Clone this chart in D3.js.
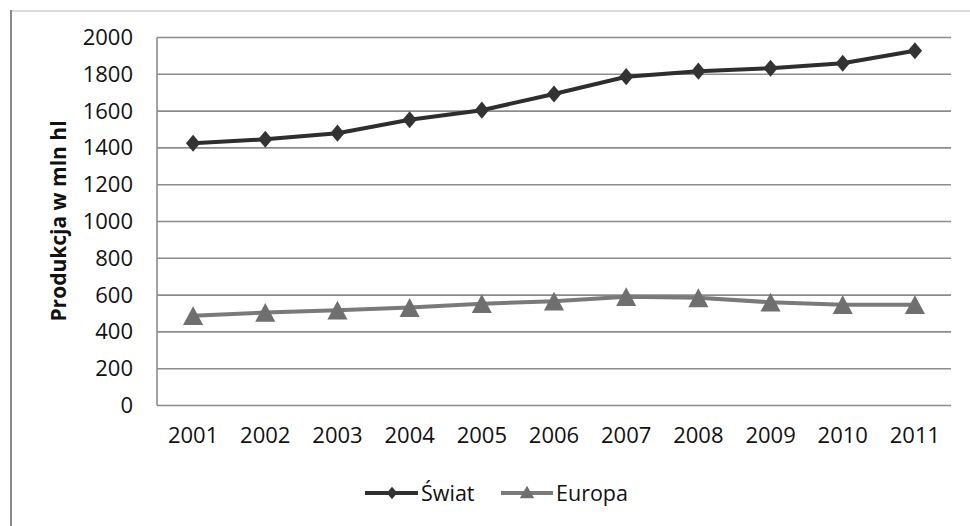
<!DOCTYPE html>
<html><head><meta charset="utf-8">
<script src="https://cdn.jsdelivr.net/npm/d3@7"></script>
<style>body{margin:0;background:#fff;} svg{display:block;}</style>
</head><body>
<script>
const years = ["2001","2002","2003","2004","2005","2006","2007","2008","2009","2010","2011"];
const swiat = [1425, 1447, 1480, 1553, 1605, 1693, 1787, 1817, 1833, 1860, 1928];
const europa = [488, 505, 518, 532, 553, 567, 591, 585, 561, 548, 548];
const yTicks = [0,200,400,600,800,1000,1200,1400,1600,1800,2000];
const seriesNames = ["Świat","Europa"];

(function(){
const W=970, H=526;
const svg = d3.select("body").append("svg").attr("width",W).attr("height",H);
const font = "'Open Sans', sans-serif";

// frame
svg.append("line").attr("x1",10).attr("x2",970).attr("y1",11).attr("y2",11).attr("stroke","#cfcfcf").attr("stroke-width",1.5);
svg.append("line").attr("x1",11).attr("x2",11).attr("y1",10).attr("y2",526).attr("stroke","#8a8a8a").attr("stroke-width",2);

const pL=157, pR=951, pT=37.5, pB=405.5;
const x = d3.scaleBand().domain(years).range([pL,pR]);
const y = d3.scaleLinear().domain([0,2000]).range([pB,pT]);

// gridlines
svg.append("g").selectAll("line").data(yTicks).join("line")
  .attr("x1",pL).attr("x2",pR).attr("y1",d=>y(d)).attr("y2",d=>y(d))
  .attr("stroke","#8c8c8c").attr("stroke-width",1.6);
svg.append("line").attr("x1",pL).attr("x2",pL).attr("y1",pT).attr("y2",pB).attr("stroke","#8c8c8c").attr("stroke-width",1.6);

// y axis labels
const yAxis = d3.axisLeft(y).tickValues(yTicks).tickSize(0).tickPadding(24).tickFormat(d3.format("d"));
const gy = svg.append("g").attr("transform",`translate(${pL},0)`).call(yAxis);
gy.select(".domain").remove();
gy.selectAll("text").attr("font-family",font).attr("font-size",22).attr("fill","#111");

// x axis labels
const xAxis = d3.axisBottom(x).tickSize(0).tickPadding(22);
const gx = svg.append("g").attr("transform",`translate(0,${pB})`).call(xAxis);
gx.select(".domain").remove();
gx.selectAll("text").attr("font-family",font).attr("font-size",22).attr("fill","#111");

// y title
svg.append("text").attr("transform","translate(66,221) rotate(-90)")
  .attr("text-anchor","middle").attr("font-family",font).attr("font-weight","bold")
  .attr("font-size",21).attr("fill","#111").text("Produkcja w mln hl");

const line = d3.line().x((d,i)=>x(years[i])+x.bandwidth()/2).y(d=>y(d));
const diamond = d3.symbol().type(d3.symbolDiamond2).size(130);
const tri = d3.symbol().type(d3.symbolTriangle).size(175);

// Europa
svg.append("path").datum(europa).attr("d",line).attr("fill","none").attr("stroke","#7a7a7a").attr("stroke-width",4);
svg.append("g").selectAll("path").data(europa).join("path")
  .attr("d",tri).attr("fill","#6f6f6f")
  .attr("transform",(d,i)=>`translate(${x(years[i])+x.bandwidth()/2},${y(d)+3}) scale(1,1.08)`);

// Swiat
svg.append("path").datum(swiat).attr("d",line).attr("fill","none").attr("stroke","#2e2e2e").attr("stroke-width",4);
svg.append("g").selectAll("path").data(swiat).join("path")
  .attr("d",diamond).attr("fill","#333")
  .attr("transform",(d,i)=>`translate(${x(years[i])+x.bandwidth()/2},${y(d)}) scale(1,1.2)`);

// legend
const lg = svg.append("g");
const ly = 493;
lg.append("line").attr("x1",365).attr("x2",418).attr("y1",ly).attr("y2",ly).attr("stroke","#2e2e2e").attr("stroke-width",4);
lg.append("path").attr("d",d3.symbol().type(d3.symbolDiamond2).size(70)).attr("fill","#333").attr("transform",`translate(392,${ly}) scale(1,1.2)`);
lg.append("text").attr("x",421).attr("y",ly+7.5).attr("font-family",font).attr("font-size",21.5).attr("fill","#111").text(seriesNames[0]);
lg.append("line").attr("x1",501).attr("x2",553).attr("y1",ly).attr("y2",ly).attr("stroke","#7a7a7a").attr("stroke-width",4);
lg.append("path").attr("d",d3.symbol().type(d3.symbolTriangle).size(90)).attr("fill","#6f6f6f").attr("transform",`translate(527,${ly+1})`);
lg.append("text").attr("x",556).attr("y",ly+7.5).attr("font-family",font).attr("font-size",21.5).attr("fill","#111").text(seriesNames[1]);
})();
</script>
</body></html>
